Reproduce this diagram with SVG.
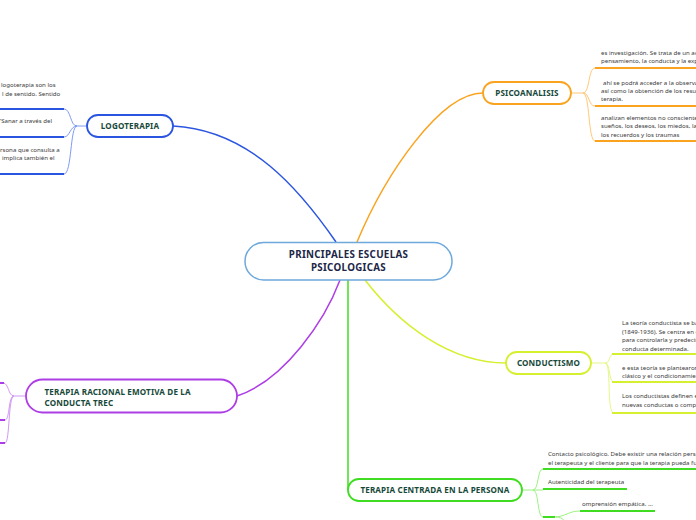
<svg xmlns="http://www.w3.org/2000/svg" width="696" height="520" viewBox="0 0 696 520">
<style>
.bg{fill:#ffffff}
.main{fill:#ffffff;stroke:#6ea8dc;stroke-width:1.5}
.node{fill:#ffffff;stroke-width:1.8}
.nt{font-family:"Noto Sans","Open Sans",sans-serif;font-weight:bold;font-size:8.1px;fill:#17493a;letter-spacing:0.15px}
.mt{font-family:"Noto Sans","Open Sans",sans-serif;font-weight:bold;font-size:9.8px;fill:#1c2748;letter-spacing:0.3px}
.lt{font-family:"Noto Sans","Open Sans",sans-serif;font-size:6.1px;fill:#3a3a3a}
.con{fill:none;stroke-width:1.5}
.br{fill:none;stroke-width:0.9}
.ul{fill:none;stroke-width:2}
</style>
<rect class="bg" x="0" y="0" width="696" height="520"/>
<g id="connectors">
  <path class="con" stroke="#2a55e0" d="M173,126 C250,130 300,190 336,242"/>
  <path class="con" stroke="#f9a31e" d="M357,242 C385,175 440,93 483,93"/>
  <path class="con" stroke="#d6ef2e" d="M365,280 C400,325 450,363 506,363"/>
  <path class="con" stroke="#40dc22" d="M348,280 V490"/>
  <path class="con" stroke="#ad3ee6" d="M340,280 C325,320 285,380 237,396"/>
  <!-- logoterapia branches -->
  <path class="br" stroke="#6f8ff0" d="M87,126 H77 M77,126 C70,126 71,109 64,109 M77,126 C70,126 70,137 64,137 M77,126 C70,126 72,174 64,174"/>
  <path class="ul" stroke="#2a55e0" d="M0,109 H64 M0,137 H64 M0,174 H64"/>
  <!-- psicoanalisis branches -->
  <path class="br" stroke="#ffc266" d="M571,93 H583 M583,93 C590,93 588,68 595,68 M583,93 C590,93 588,106 595,106 M583,93 C590,93 588,141 595,141"/>
  <path class="ul" stroke="#f9a31e" d="M595,68 H696 M595,106 H696 M595,141 H696"/>
  <!-- conductismo branches -->
  <path class="br" stroke="#e2f57a" d="M591,363 H605 M605,363 C611,363 608,354 614,354 M605,363 C611,363 608,382 614,382 M605,363 C612,363 606,413 614,413"/>
  <path class="ul" stroke="#d6ef2e" d="M612,354 H696 M612,382 H696 M612,413 H696"/>
  <!-- terapia centrada branches -->
  <path class="br" stroke="#8ef072" d="M522,490 H533 M533,490 C539,490 537,469 543,469 M533,490 H543 M533,490 C539,490 537,517 543,517 M553,517 C566,517 568,511 580,511 M556,517 C563,517 564,521 570,526"/>
  <path class="ul" stroke="#40dc22" d="M543,469 H696 M543,489 H627 M543,517 H555 M580,511 H655"/>
  <!-- trec branches -->
  <path class="br" stroke="#c98cf0" d="M26,396 H14 M14,396 C8,396 9,383 3,383 M14,396 C8,396 10,420 5,420 M14,396 C8,396 10,443 5,443"/>
  <path class="ul" stroke="#ad3ee6" d="M0,383 H4 M0,420 H5 M0,443 H5"/>
</g>
<g id="main">
  <rect class="main" x="245" y="242.5" width="207" height="37.5" rx="18.5"/>
  <text class="mt" x="348.5" y="258" text-anchor="middle">PRINCIPALES ESCUELAS</text>
  <text class="mt" x="348.5" y="270.5" text-anchor="middle">PSICOLOGICAS</text>
</g>
<g id="logoterapia">
  <rect class="node" stroke="#2a55e0" x="87" y="115" width="86" height="22" rx="11"/>
  <text class="nt" x="130" y="129" text-anchor="middle">LOGOTERAPIA</text>
  <text class="lt" x="1" y="86.8">logoterapia son los</text>
  <text class="lt" x="2" y="95.8">l de sentido. Sentido</text>
  <text class="lt" x="-1" y="122.8">“Sanar a través del</text>
  <text class="lt" x="0" y="151.5">rsona que consulta a</text>
  <text class="lt" x="2" y="159.5">implica también el</text>
</g>
<g id="psicoanalisis">
  <rect class="node" stroke="#f9a31e" x="483" y="82" width="88" height="22" rx="11"/>
  <text class="nt" x="527" y="96" text-anchor="middle">PSICOANALISIS</text>
  <text class="lt" x="601" y="55">es investigación. Se trata de un ac</text>
  <text class="lt" x="601" y="63">pensamiento, la conducta y la exp</text>
  <text class="lt" x="603" y="84.5">ahí se podrá acceder a la observa</text>
  <text class="lt" x="601" y="92.5">así como la obtención de los resul</text>
  <text class="lt" x="601" y="100.5">terapia.</text>
  <text class="lt" x="601" y="120">analizan elementos no consciente</text>
  <text class="lt" x="601" y="128.3">sueños, los deseos, los miedos, las</text>
  <text class="lt" x="601" y="136.5">los recuerdos y los traumas</text>
</g>
<g id="conductismo">
  <rect class="node" stroke="#d6ef2e" x="506" y="352" width="85" height="22" rx="11"/>
  <text class="nt" x="548.5" y="366" text-anchor="middle">CONDUCTISMO</text>
  <text class="lt" x="622" y="325">La teoría conductista se ba</text>
  <text class="lt" x="622" y="333.5">(1849-1936). Se centra en e</text>
  <text class="lt" x="622" y="342">para controlarla y predecir</text>
  <text class="lt" x="622" y="350.5">conducta determinada.</text>
  <text class="lt" x="622" y="369.5">e esta teoría se plantearon</text>
  <text class="lt" x="622" y="377.5">clásico y el condicionamien</text>
  <text class="lt" x="622" y="398">Los conductistas definen el</text>
  <text class="lt" x="622" y="406.5">nuevas conductas o compo</text>
</g>
<g id="terapia-centrada">
  <rect class="node" stroke="#40dc22" x="348" y="479" width="174" height="22" rx="11"/>
  <text class="nt" x="435" y="493" text-anchor="middle">TERAPIA CENTRADA EN LA PERSONA</text>
  <text class="lt" x="548" y="455.5">Contacto psicológico. Debe existir una relación perso</text>
  <text class="lt" x="548" y="464.5">el terapeuta y el cliente para que la terapia pueda fun</text>
  <text class="lt" x="548" y="484">Autenticidad del terapeuta</text>
  <text class="lt" x="582" y="505.5">omprensión empática. ...</text>
</g>
<g id="trec">
  <rect class="node" stroke="#ad3ee6" x="26" y="379.5" width="211" height="33" rx="16.5"/>
  <text class="nt" x="44.5" y="394.5">TERAPIA RACIONAL EMOTIVA DE LA</text>
  <text class="nt" x="44.5" y="405.5">CONDUCTA TREC</text>
</g>
</svg>
